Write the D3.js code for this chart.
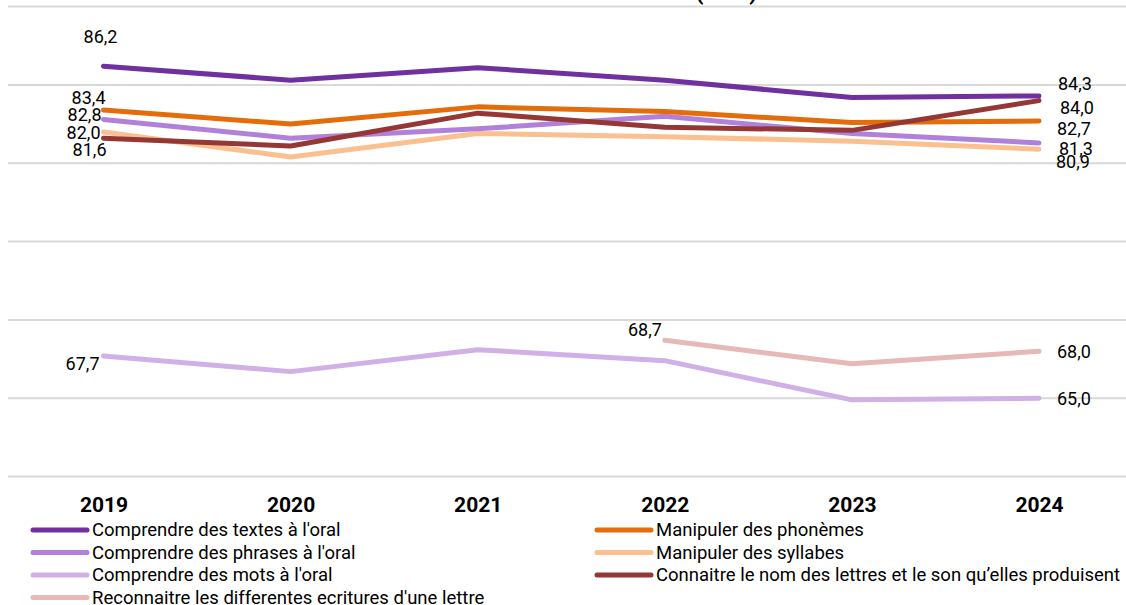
<!DOCTYPE html>
<html>
<head>
<meta charset="utf-8">
<script src="https://cdn.jsdelivr.net/npm/d3@7"></script>
<style>
  body { margin: 0; background: #fff; }
  text { font-family: Roboto, "Noto Sans", sans-serif; }
</style>
</head>
<body>
<div id="chart-container"></div>
<script>
// Données
const years = ['2019', '2020', '2021', '2022', '2023', '2024'];
const yTicks = [60, 65, 70, 75, 80, 85, 90];

const textesOral = [86.2, 85.3, 86.1, 85.3, 84.2, 84.3];
const phonemes = [83.4, 82.5, 83.6, 83.3, 82.6, 82.7];
const phrasesOral = [82.8, 81.6, 82.2, 83.0, 81.9, 81.3];
const syllabes = [82.0, 80.4, 81.9, 81.7, 81.4, 80.9];
const nomLettres = [81.6, 81.1, 83.2, 82.3, 82.1, 84.0];
const motsOral = [67.7, 66.7, 68.1, 67.4, 64.9, 65.0];
const ecritures = [null, null, null, 68.7, 67.2, 68.0];

const series = [
  { name: "Comprendre des textes à l'oral", values: textesOral, color: '#7030A0',
    first: { anchor: 'middle', dx: -3, dy: -29 }, last: { dx: 19, dy: -12 } },
  { name: 'Manipuler des phonèmes', values: phonemes, color: '#E46C0A',
    first: { anchor: 'end', dx: 2, dy: -12 }, last: { dx: 18, dy: 8 } },
  { name: "Comprendre des phrases à l'oral", values: phrasesOral, color: '#B180DB',
    first: { anchor: 'end', dx: -2, dy: -5 }, last: { dx: 20, dy: 6 } },
  { name: 'Manipuler des syllabes', values: syllabes, color: '#FAC090',
    first: { anchor: 'end', dx: -3, dy: 1 }, last: { dx: 17, dy: 13 } },
  { name: "Comprendre des mots à l'oral", values: motsOral, color: '#D0B0E6',
    first: { anchor: 'end', dx: -4, dy: 8 }, last: { dx: 18, dy: 0 } },
  { name: "Connaitre le nom des lettres et le son qu’elles produisent", values: nomLettres, color: '#953735',
    first: { anchor: 'end', dx: 3, dy: 11 }, last: { dx: 21, dy: 7 } },
  { name: "Reconnaitre les differentes ecritures d'une lettre", values: ecritures, color: '#E6B9B8',
    first: { anchor: 'end', dx: -3, dy: -11 }, last: { dx: 18, dy: 0 } }
];

// ordre d'affichage de la légende (colonne gauche puis droite)
const legendLeft = [0, 2, 4, 6];
const legendRight = [1, 3, 5];

const width = 1126;
const height = 605;

const svg = d3.select('#chart-container')
  .append('svg')
  .attr('width', width)
  .attr('height', height);

const xScale = d3.scalePoint()
  .domain(years)
  .range([103.5, 1039]);

const yScale = d3.scaleLinear()
  .domain([60, 90])
  .range([476.6, 6.6]);

const fmt = v => d3.format('.1f')(v).replace('.', ',');

// Titre (coupé en haut)
svg.append('text')
  .attr('x', 757)
  .attr('y', 0)
  .attr('text-anchor', 'end')
  .attr('font-size', '22px')
  .attr('font-weight', 'bold')
  .attr('fill', '#000')
  .text('Taux de réussite aux évaluations (en %)');

// Grille
svg.append('g')
  .selectAll('line')
  .data(yTicks)
  .enter().append('line')
  .attr('x1', 8)
  .attr('x2', width)
  .attr('y1', d => yScale(d))
  .attr('y2', d => yScale(d))
  .attr('stroke', '#d9d9d9')
  .attr('stroke-width', 2);

// Axe X
const xAxis = svg.append('g')
  .attr('transform', 'translate(0, 505)')
  .call(d3.axisBottom(xScale).tickSize(0).tickPadding(0));
xAxis.select('.domain').remove();
xAxis.selectAll('text')
  .attr('dy', '0.35em')
  .attr('font-size', '21px')
  .attr('font-weight', 'bold')
  .attr('font-family', 'Roboto, sans-serif')
  .attr('fill', '#000');

// Lignes
const line = d3.line()
  .defined(d => d.v !== null)
  .x(d => xScale(d.year))
  .y(d => yScale(d.v));

const drawOrder = [4, 6, 3, 2, 1, 5, 0];
drawOrder.forEach(i => {
  const s = series[i];
  const pts = years.map((y, j) => ({ year: y, v: s.values[j] }));
  svg.append('path')
    .datum(pts)
    .attr('fill', 'none')
    .attr('stroke', s.color)
    .attr('stroke-width', 5)
    .attr('stroke-linecap', 'round')
    .attr('stroke-linejoin', 'round')
    .attr('d', line);
});

// Etiquettes
series.forEach(s => {
  const defined = years.map((y, j) => ({ year: y, v: s.values[j] })).filter(d => d.v !== null);
  const a = defined[0];
  const b = defined[defined.length - 1];
  svg.append('text')
    .attr('x', xScale(a.year) + s.first.dx)
    .attr('y', yScale(a.v) + s.first.dy)
    .attr('dy', '0.35em')
    .attr('text-anchor', s.first.anchor)
    .attr('font-size', '18px')
    .attr('fill', '#000')
    .text(fmt(a.v));
  svg.append('text')
    .attr('x', xScale(b.year) + s.last.dx)
    .attr('y', yScale(b.v) + s.last.dy)
    .attr('dy', '0.35em')
    .attr('text-anchor', 'start')
    .attr('font-size', '18px')
    .attr('fill', '#000')
    .text(fmt(b.v));
});

// Légende
function legendColumn(idx, x0) {
  const g = svg.append('g');
  idx.forEach((i, k) => {
    const y = 530 + k * 22.5;
    g.append('line')
      .attr('x1', x0)
      .attr('x2', x0 + 54)
      .attr('y1', y)
      .attr('y2', y)
      .attr('stroke', series[i].color)
      .attr('stroke-width', 5)
      .attr('stroke-linecap', 'round');
    g.append('text')
      .attr('x', x0 + 59)
      .attr('y', y)
      .attr('dy', '0.35em')
      .attr('font-size', '18.5px')
      .attr('fill', '#000')
      .text(series[i].name);
  });
}
legendColumn(legendLeft, 33);
legendColumn(legendRight, 597);
</script>
</body>
</html>
